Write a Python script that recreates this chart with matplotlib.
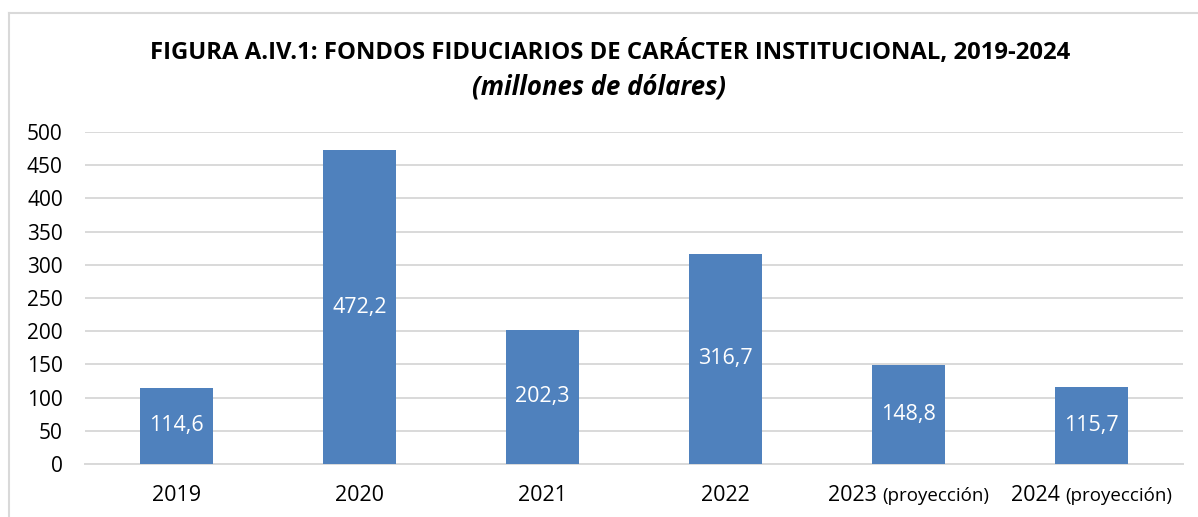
import matplotlib.pyplot as plt
from matplotlib.offsetbox import TextArea, HPacker, AnnotationBbox
from matplotlib.lines import Line2D

years = ["2019", "2020", "2021", "2022", "2023", "2024"]
values = [114.6, 472.2, 202.3, 316.7, 148.8, 115.7]
notes = ["", "", "", "", "(proyección)", "(proyección)"]
yticks = [0, 50, 100, 150, 200, 250, 300, 350, 400, 450, 500]

plt.rcParams['font.family'] = ['Open Sans', 'DejaVu Sans']

fig = plt.figure(figsize=(11.98, 5.17), dpi=100)
ax = fig.add_axes([0.071, 0.1025, 0.9165, 0.6422])

x = list(range(len(years)))
bars = ax.bar(x, values, width=0.4, color="#4F81BD", zorder=3)
labels = [f"{v:.1f}".replace(".", ",") for v in values]
ax.bar_label(bars, labels=labels, label_type="center", color="white", fontsize=15.5)

ax.set_xlim(-0.5, len(years) - 0.5)
ax.set_ylim(0, 500)
ax.set_yticks(yticks)
ax.set_yticklabels([str(t) for t in yticks], fontsize=15)
ax.tick_params(axis="y", length=0, pad=16)
ax.tick_params(axis="x", length=0)
ax.set_xticks(x)
ax.set_xticklabels([])
ax.grid(axis="y", color="#d9d9d9", linewidth=1.4, zorder=0)
for side in ["top", "right", "left"]:
    ax.spines[side].set_visible(False)
ax.spines["bottom"].set_color("#d9d9d9")
ax.spines["bottom"].set_linewidth(1.4)

# category labels, with the smaller "(proyección)" note
for i, (yr, note) in enumerate(zip(years, notes)):
    parts = [TextArea(yr, textprops=dict(fontsize=15.5))]
    if note:
        parts.append(TextArea(note, textprops=dict(fontsize=13.5)))
    box = HPacker(children=parts, align="baseline", pad=0, sep=4)
    ab = AnnotationBbox(box, (i, 0), xycoords=("data", "axes fraction"),
                        xybox=(0, -23), boxcoords="offset points",
                        frameon=False, box_alignment=(0.5, 0.5))
    ax.add_artist(ab)

fig.text(0.509, 0.898, "FIGURA A.IV.1: FONDOS FIDUCIARIOS DE CARÁCTER INSTITUCIONAL, 2019-2024",
         ha="center", va="center", fontsize=17.2, fontweight="bold")
fig.text(0.5, 0.832, "(millones de dólares)", ha="center", va="center",
         fontsize=18.5, fontweight="bold", style="italic")

# chart frame
fig.add_artist(Line2D([0.0075, 0.0075], [0, 0.975], color="#d9d9d9", linewidth=1.5,
                      transform=fig.transFigure))
fig.add_artist(Line2D([0.0075, 1.0], [0.975, 0.975], color="#d9d9d9", linewidth=1.5,
                      transform=fig.transFigure))

fig.savefig("out.png", dpi=100)
